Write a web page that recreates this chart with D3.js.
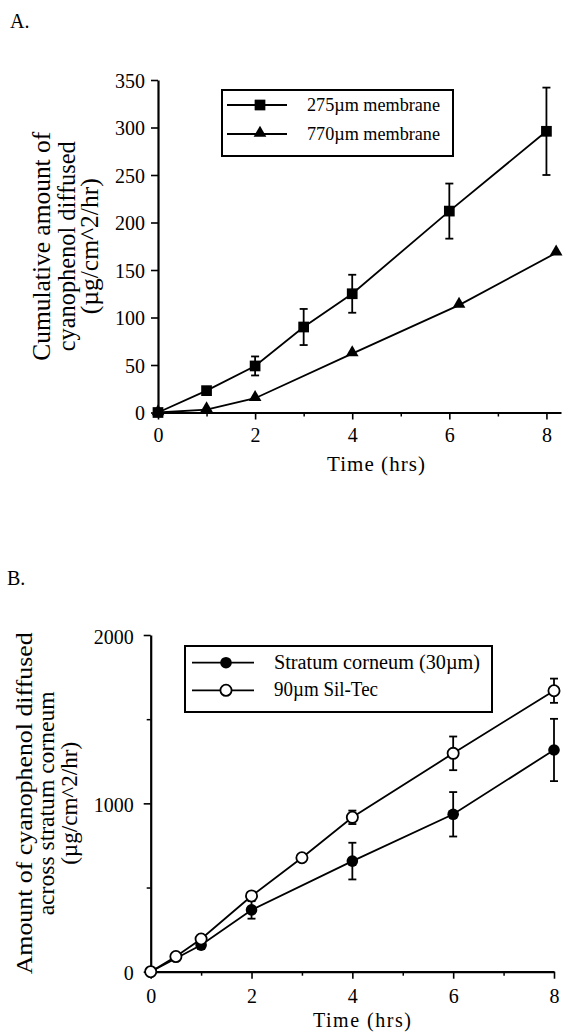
<!DOCTYPE html>
<html>
<head>
<meta charset="utf-8">
<script src="https://cdn.jsdelivr.net/npm/d3@7"></script>
<style>
  html, body { margin: 0; padding: 0; background: #fff; }
  svg { display: block; }
  svg text { font-family: "Liberation Serif", "Times New Roman", serif !important; fill: #000; }
</style>
</head>
<body>
<svg id="chart" width="569" height="1033"></svg>
<script>
// ---------- Panel A data ----------
const timesA275 = [0, 1, 2, 3, 4, 6, 8];
const values275 = [0, 23, 49, 90, 125, 212, 296];
const errors275 = [0, 3, 10, 19, 20, 29, 46];
const timesA770 = [0, 1, 2, 4, 6.2, 8.2];
const values770 = [0, 3, 15, 62, 113, 168];
const yTicksA = [0, 50, 100, 150, 200, 250, 300, 350];
const xTicksMajor = [0, 2, 4, 6, 8];
const xTicksMinor = [1, 3, 5, 7];
const seriesNamesA = ["275\u00b5m membrane", "770\u00b5m membrane"];

// ---------- Panel B data ----------
const timesSC = [0, 1, 2, 4, 6, 8];
const valuesSC = [0, 158, 367, 657, 935, 1317];
const errorsSC = [0, 20, 52, 109, 132, 185];
const timesSil = [0, 0.5, 1, 2, 3, 4, 6, 8];
const valuesSil = [0, 90, 194, 450, 677, 917, 1297, 1669];
const errorsSil = [0, 0, 0, 0, 0, 40, 100, 72];
const yTicksBMajor = [0, 1000, 2000];
const yTicksBMinor = [500, 1500];
const seriesNamesB = ["Stratum corneum (30\u00b5m)", "90\u00b5m Sil-Tec"];

const SERIF = "Liberation Serif";
const svg = d3.select("#chart");

function styleAxis(g, w) {
  g.attr("font-family", SERIF).attr("font-size", 20);
  g.selectAll(".domain").attr("stroke", "#000").attr("stroke-width", w);
  g.selectAll(".tick line").attr("stroke", "#000").attr("stroke-width", 1.6);
  g.selectAll(".tick text").attr("font-family", SERIF).attr("font-size", 20).attr("fill", "#000");
}

function errorBars(g, times, vals, errs, x, y) {
  const data = times.map((t, i) => ({ t, v: vals[i], e: errs[i] })).filter(d => d.e > 0);
  const eb = g.append("g");
  eb.selectAll("line.v").data(data).join("line")
    .attr("x1", d => x(d.t)).attr("x2", d => x(d.t))
    .attr("y1", d => y(d.v + d.e)).attr("y2", d => y(d.v - d.e))
    .attr("stroke", "#000").attr("stroke-width", 1.8);
  eb.selectAll("line.t").data(data).join("line")
    .attr("x1", d => x(d.t) - 4).attr("x2", d => x(d.t) + 4)
    .attr("y1", d => y(d.v + d.e)).attr("y2", d => y(d.v + d.e))
    .attr("stroke", "#000").attr("stroke-width", 1.8);
  eb.selectAll("line.b").data(data).join("line")
    .attr("x1", d => x(d.t) - 4).attr("x2", d => x(d.t) + 4)
    .attr("y1", d => y(d.v - d.e)).attr("y2", d => y(d.v - d.e))
    .attr("stroke", "#000").attr("stroke-width", 1.8);
}

function drawLine(g, times, vals, x, y) {
  g.append("path")
    .datum(times.map((t, i) => [t, vals[i]]))
    .attr("fill", "none").attr("stroke", "#000").attr("stroke-width", 1.8)
    .attr("d", d3.line().x(d => x(d[0])).y(d => y(d[1])));
}

function addText(g, opts, str) {
  const t = g.append("text").attr("font-family", SERIF);
  Object.entries(opts).forEach(([k, v]) => t.attr(k, v));
  return t.text(str);
}

// =================== Panel A ===================
{
  const x = d3.scaleLinear().domain([0, 8.3]).range([158, 561]);
  const y = d3.scaleLinear().domain([0, 350]).range([412.5, 80]);
  const g = svg.append("g");

  addText(svg, { x: 10, y: 28, "font-size": 20 }, "A.");

  const ax = g.append("g").attr("transform", `translate(0,${y(0)})`)
    .call(d3.axisBottom(x).tickValues(xTicksMajor).tickSize(7).tickPadding(8).tickFormat(d3.format("d")).tickSizeOuter(0));
  styleAxis(ax, 2.2);
  const axm = g.append("g").attr("transform", `translate(0,${y(0)})`)
    .call(d3.axisBottom(x).tickValues(xTicksMinor).tickSize(4).tickFormat("").tickSizeOuter(0));
  axm.select(".domain").remove();
  axm.selectAll(".tick line").attr("stroke", "#000").attr("stroke-width", 1.5);

  const ay = g.append("g").attr("transform", `translate(${x(0)},0)`)
    .call(d3.axisLeft(y).tickValues(yTicksA).tickSize(7).tickPadding(6).tickSizeOuter(0));
  styleAxis(ay, 2.2);
  ay.selectAll(".tick text").attr("dy", "0.36em");

  addText(g, { x: 376, y: 471, "text-anchor": "middle", "font-size": 21, "textLength": 98, "lengthAdjust": "spacing" }, "Time (hrs)");
  const yl = ["Cumulative amount of", "cyanophenol diffused", "(\u00b5g/cm^2/hr)"];
  const ylx = [50, 75, 98];
  const yll = [229, 210, 136];
  yl.forEach((s, i) => {
    addText(g, { transform: `translate(${ylx[i]},${(80 + 412.5) / 2}) rotate(-90)`, "text-anchor": "middle",
      "font-size": 25, textLength: yll[i], lengthAdjust: "spacingAndGlyphs" }, s);
  });

  drawLine(g, timesA275, values275, x, y);
  drawLine(g, timesA770, values770, x, y);
  errorBars(g, timesA275, values275, errors275, x, y);

  const sq = d3.symbol().type(d3.symbolSquare).size(115);
  const tri = d3.symbol().type(d3.symbolTriangle).size(70);
  g.selectAll("path.sq").data(timesA275.map((t, i) => [t, values275[i]])).join("path")
    .attr("transform", d => `translate(${x(d[0])},${y(d[1])})`).attr("d", sq).attr("fill", "#000");
  g.selectAll("path.tri").data(timesA770.map((t, i) => [t, values770[i]])).join("path")
    .attr("transform", d => `translate(${x(d[0])},${y(d[1]) - 1})`).attr("d", tri).attr("fill", "#000");

  const lg = g.append("g");
  lg.append("rect").attr("x", 222).attr("y", 90).attr("width", 231).attr("height", 66)
    .attr("fill", "#fff").attr("stroke", "#000").attr("stroke-width", 2);
  [105, 134].forEach((ly, i) => {
    lg.append("line").attr("x1", 227).attr("x2", 287).attr("y1", ly).attr("y2", ly)
      .attr("stroke", "#000").attr("stroke-width", 1.8);
    lg.append("path").attr("transform", `translate(260,${ly - (i ? 1 : 0)})`).attr("d", i ? tri : sq).attr("fill", "#000");
    addText(lg, { x: 307, y: ly + 6, "font-size": 19, textLength: 133, lengthAdjust: "spacingAndGlyphs" }, seriesNamesA[i]);
  });
}

// =================== Panel B ===================
{
  const x = d3.scaleLinear().domain([0, 8]).range([150.7, 554]);
  const y = d3.scaleLinear().domain([0, 2000]).range([971.7, 635]);
  const g = svg.append("g");

  addText(svg, { x: 7, y: 585, "font-size": 20 }, "B.");

  const ax = g.append("g").attr("transform", `translate(0,${y(0)})`)
    .call(d3.axisBottom(x).tickValues(xTicksMajor).tickSize(7).tickPadding(10).tickFormat(d3.format("d")).tickSizeOuter(0));
  styleAxis(ax, 2.2);
  const axm = g.append("g").attr("transform", `translate(0,${y(0)})`)
    .call(d3.axisBottom(x).tickValues(xTicksMinor).tickSize(4).tickFormat("").tickSizeOuter(0));
  axm.select(".domain").remove();
  axm.selectAll(".tick line").attr("stroke", "#000").attr("stroke-width", 1.5);

  const ay = g.append("g").attr("transform", `translate(${x(0)},0)`)
    .call(d3.axisLeft(y).tickValues(yTicksBMajor).tickSize(7).tickPadding(10).tickFormat(d3.format("d")).tickSizeOuter(0));
  styleAxis(ay, 2.2);
  ay.selectAll(".tick text").attr("dy", "0.4em");
  const aym = g.append("g").attr("transform", `translate(${x(0)},0)`)
    .call(d3.axisLeft(y).tickValues(yTicksBMinor).tickSize(4).tickFormat("").tickSizeOuter(0));
  aym.select(".domain").remove();
  aym.selectAll(".tick line").attr("stroke", "#000").attr("stroke-width", 1.5);

  addText(g, { x: 362, y: 1027, "text-anchor": "middle", "font-size": 20, textLength: 98, lengthAdjust: "spacing" }, "Time (hrs)");
  const yl = ["Amount of cyanophenol diffused", "across stratum corneum", "(\u00b5g/cm^2/hr)"];
  const ylx = [32, 54, 77];
  const yll = [342, 224, 123];
  yl.forEach((s, i) => {
    addText(g, { transform: `translate(${ylx[i]},${(635 + 971.7) / 2}) rotate(-90)`, "text-anchor": "middle",
      "font-size": 24, textLength: yll[i], lengthAdjust: "spacingAndGlyphs" }, s);
  });

  drawLine(g, timesSC, valuesSC, x, y);
  drawLine(g, timesSil, valuesSil, x, y);
  errorBars(g, timesSC, valuesSC, errorsSC, x, y);
  errorBars(g, timesSil, valuesSil, errorsSil, x, y);

  g.selectAll("circle.sc").data(timesSC.map((t, i) => [t, valuesSC[i]])).join("circle")
    .attr("cx", d => x(d[0])).attr("cy", d => y(d[1])).attr("r", 5.8).attr("fill", "#000");
  g.selectAll("circle.sil").data(timesSil.map((t, i) => [t, valuesSil[i]])).join("circle")
    .attr("cx", d => x(d[0])).attr("cy", d => y(d[1])).attr("r", 5.6)
    .attr("fill", "#fff").attr("stroke", "#000").attr("stroke-width", 1.8);

  const lg = g.append("g");
  lg.append("rect").attr("x", 185).attr("y", 646).attr("width", 307).attr("height", 66)
    .attr("fill", "#fff").attr("stroke", "#000").attr("stroke-width", 2);
  [662.7, 690.3].forEach((ly, i) => {
    lg.append("line").attr("x1", 192).attr("x2", 254).attr("y1", ly).attr("y2", ly)
      .attr("stroke", "#000").attr("stroke-width", 1.8);
    if (i === 0) {
      lg.append("circle").attr("cx", 226).attr("cy", ly).attr("r", 5.8).attr("fill", "#000");
    } else {
      lg.append("circle").attr("cx", 226).attr("cy", ly).attr("r", 5.6)
        .attr("fill", "#fff").attr("stroke", "#000").attr("stroke-width", 1.8);
    }
    addText(lg, { x: 274, y: ly + 6, "font-size": 20, textLength: i === 0 ? 206 : 104, lengthAdjust: "spacingAndGlyphs" }, seriesNamesB[i]);
  });
}
</script>
</body>
</html>
